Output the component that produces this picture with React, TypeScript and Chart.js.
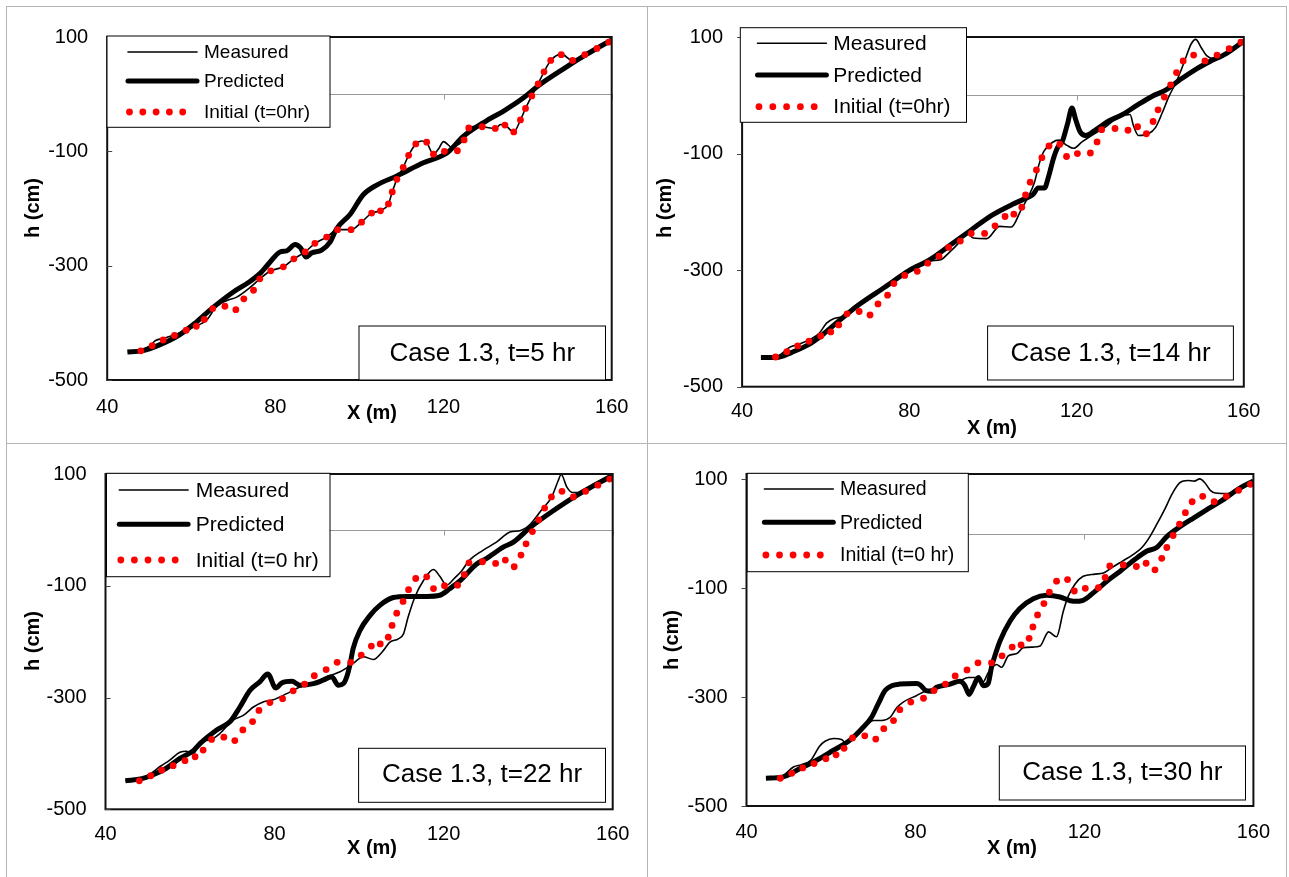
import React, { useEffect, useRef } from "react";
import { Chart, registerables } from "chart.js";

Chart.register(...registerables);

type Pt = [number, number];

// ---------- tick labels ----------
const xTicks = [40, 80, 120, 160];
const yTicks = [-500, -300, -100, 100];

// ---------- text ----------
const seriesNames = ["Measured", "Predicted"];
const initialLabelA = "Initial (t=0hr)";
const initialLabelB = "Initial (t=0 hr)";
const caseLabels = ["Case 1.3, t=5 hr", "Case 1.3, t=14 hr", "Case 1.3, t=22 hr", "Case 1.3, t=30 hr"];
const xTitle = "X (m)";
const yTitle = "h (cm)";

// ---------- data (X in m, h in cm) ----------
const initialProfile: Pt[] = [
  [48.0, -449], [50.7, -440], [53.3, -430], [56.0, -422], [58.8, -413], [61.2, -406], [63.1, -394],
  [65.1, -375], [68.0, -371], [70.6, -377], [72.5, -358], [74.8, -343], [76.3, -323], [78.9, -309],
  [81.9, -302], [84.4, -288], [87.1, -276], [89.4, -261], [92.2, -250], [94.8, -237], [98.0, -237],
  [100.5, -224], [102.9, -208], [105.0, -204], [106.9, -192], [107.8, -171], [108.9, -149], [110.4, -128],
  [111.7, -107], [113.4, -87], [116.0, -84], [117.6, -105], [120.2, -100], [123.3, -99], [124.9, -80],
  [126.0, -59], [129.2, -57], [132.3, -60], [134.6, -54], [136.7, -66], [138.3, -45], [139.5, -25],
  [141.0, -3], [142.5, 18], [143.9, 39], [145.5, 59], [148.0, 69], [150.7, 59], [153.6, 69],
  [156.5, 80], [159.3, 91],
];

const measured5: Pt[] = [
  [45, -450], [48, -448], [50, -441], [51.5, -431], [53.5, -427], [56, -421], [58.8, -413], [61.2, -405],
  [62.5, -401], [63.8, -394], [66, -371], [68.5, -361], [70.8, -355], [74, -338], [76.3, -323],
  [78.9, -309], [81.9, -302], [84.4, -288], [87.1, -276], [89.4, -261], [92.2, -250], [94.8, -237],
  [98, -237], [100.5, -224], [102.9, -208], [105, -204], [106.9, -192], [107.8, -171], [108.9, -149],
  [110.4, -128], [111.7, -107], [113.4, -87], [114.8, -82], [116, -85], [117.6, -105], [118.7, -97],
  [120, -83], [122, -93], [123.5, -88], [124.9, -79], [126, -59], [127.6, -56], [129.2, -57],
  [132.3, -60], [133.6, -53], [134.6, -54], [136.7, -66], [138.3, -45], [139.5, -25], [141, -3],
  [142.5, 18], [143.9, 39], [145.5, 59], [148, 70], [150.7, 59], [153.6, 69], [156.5, 80], [160, 95],
];
const predicted5: Pt[] = [
  [44.8, -451], [48.2, -449], [52.3, -439], [57.2, -421], [61, -400], [65.2, -373], [70, -346],
  [73.5, -330], [76.3, -314], [78.7, -294], [81.1, -276], [82.7, -274], [84.7, -263], [86, -269],
  [87.3, -285], [88.6, -278], [91, -273], [93, -259], [94.6, -235], [97.8, -210], [100.9, -176],
  [104.1, -159], [108.9, -143], [115.2, -120], [120.8, -103], [124.7, -74], [130.1, -47], [134.2, -30],
  [139.1, -6], [142.4, 14], [148.9, 46], [153.9, 69], [160, 95],
];

const measured14: Pt[] = [
  [44.5, -450], [48, -449], [51.5, -432], [54, -426], [56.5, -418], [58.5, -408], [60.2, -391],
  [62, -383], [64.3, -379], [66.8, -362], [70, -348], [74.2, -329], [78, -311], [82, -294], [85, -284],
  [87.5, -282], [89.5, -270], [92, -252], [93.8, -236], [95.3, -245], [98.5, -246], [101.6, -225],
  [104.4, -226], [106.7, -197], [108.3, -176], [109.9, -150], [111, -119], [112.2, -96], [114.2, -81],
  [115.8, -77], [117.7, -86], [119.3, -91], [121.3, -80], [123.6, -69], [126.8, -55], [129.9, -38],
  [132.8, -33], [133.6, -52], [134.8, -69], [137.2, -66], [138.9, -55], [140.5, -30], [142.1, -2],
  [143.7, 21], [145, 43], [146.2, 66], [147.4, 88], [148.5, 96], [149.8, 82], [151.1, 68],
  [152.7, 63], [155.9, 74], [160, 93],
];
const predicted14: Pt[] = [
  [44.5, -450], [48.2, -450], [51.9, -441], [56.1, -427], [59.4, -410], [63.5, -385], [68.4, -357],
  [74.2, -329], [79.9, -301], [84.9, -282], [89.8, -257], [94.8, -231], [99.7, -206], [104.7, -187],
  [107.5, -178], [109.6, -170], [110.8, -159], [112.3, -159], [113.4, -137], [114.4, -110],
  [115.5, -89], [116.6, -79], [117.8, -50], [118.9, -22], [119.8, -42], [120.8, -62], [122.2, -69],
  [124.4, -60], [127.5, -45], [131, -33], [134.5, -17], [138, -2], [141.3, 9], [144.6, 26],
  [148.6, 45], [151.9, 58], [155.9, 72], [160, 93],
];

const measured22: Pt[] = [
  [44.7, -449], [48, -446], [50.5, -437], [53, -423], [55.2, -412], [57.6, -398], [59.2, -396],
  [60.8, -401], [62.4, -379], [64.7, -376], [67.1, -364], [70.2, -340], [72.6, -332], [75, -317],
  [77.3, -308], [79.7, -304], [82.9, -293], [86, -281], [89.2, -275], [92.3, -263], [95.5, -254],
  [98.6, -239], [101, -227], [103.4, -232], [105.4, -219], [107.3, -201], [109.3, -195], [110.5, -186],
  [111.6, -156], [113.2, -120], [115.2, -91], [117.6, -71], [119.1, -83], [120.7, -99], [122.5, -87],
  [124.3, -73], [126, -55], [129.2, -37], [132.5, -22], [135.7, -4], [138.2, -1], [140.6, 11],
  [143.1, 35], [145.5, 58], [147.1, 88], [147.8, 99], [149.2, 76], [150.4, 67], [152.4, 67],
  [155.3, 81], [159.8, 97],
];
const predicted22: Pt[] = [
  [44.7, -449], [48.6, -445], [51, -439], [54.3, -427], [57.6, -409], [60.8, -395], [62.4, -382],
  [66.3, -358], [69.5, -343], [71.8, -317], [74.2, -287], [76.5, -272], [78.4, -258], [80.3, -283],
  [81.7, -274], [84.1, -271], [86, -278], [89.2, -275], [91.5, -269], [93.5, -263], [95.1, -278],
  [96.3, -275], [97.2, -260], [97.9, -239], [98.6, -212], [100.2, -180], [102.6, -153], [104.9, -135],
  [108.1, -121], [111.3, -119], [116, -119], [119.1, -117], [121.5, -105], [123.9, -91], [127.8, -61],
  [130, -52], [134.1, -31], [136.5, -22], [140.6, 5], [145.5, 32], [152, 64], [159.8, 97],
];

const measured30: Pt[] = [
  [44.6, -449], [48, -447], [51.2, -428], [53, -424], [55.2, -416], [57.3, -390], [58.6, -381],
  [60.6, -376], [62.5, -378], [63.7, -385], [65.5, -370], [68.4, -352], [70, -343], [72, -343],
  [74, -337], [75.6, -319], [77.1, -309], [80.3, -297], [82.6, -288], [85.8, -282], [88.2, -276],
  [90.5, -270], [92.5, -264], [94.5, -264], [95.9, -273], [97.3, -254], [99.2, -240], [100.4, -245],
  [102, -224], [104, -220], [105.5, -209], [107.9, -208], [109.5, -206], [111.5, -180], [113.4, -189],
  [115, -142], [116.2, -114], [117.8, -92], [119.7, -78], [122.5, -74], [124.5, -72], [126.5, -62],
  [129, -50], [131.5, -38], [133.5, -26], [135.5, -5], [137.3, 20], [139, 45], [140.8, 74],
  [142.6, 94], [144.5, 98], [146, 97], [147.3, 101], [148.5, 94], [149.8, 80], [151, 75],
  [154.5, 74], [157, 82], [160, 96],
];
const predicted30: Pt[] = [
  [44.6, -449], [48.5, -447], [52.7, -431], [56.6, -416], [60.5, -398], [64.5, -379], [67.3, -358],
  [69.6, -337], [71.2, -312], [72.8, -288], [74.4, -279], [76.3, -276], [80.3, -275], [81.2, -278],
  [82.5, -288], [83.8, -289], [85, -282], [88.2, -276], [90.5, -271], [91.7, -279], [92.7, -295],
  [93.7, -281], [94.9, -264], [96.1, -279], [97.2, -275], [98, -245], [98.8, -224], [100, -197],
  [102.4, -160], [104.7, -137], [107.9, -119], [111.1, -113], [114.2, -116], [117.4, -124],
  [119.7, -122], [122.3, -107], [125.3, -87], [128.4, -69], [131.6, -49], [134.7, -32], [137.1, -25],
  [139.5, -5], [142.6, 13], [145.8, 29], [148.9, 44], [152.1, 59], [156.8, 84], [160, 97],
];

// ---------- layout (page pixels) ----------
interface PanelCfg {
  origin: [number, number];
  size: [number, number];
  area: { l: number; r: number; t: number; b: number };
  yMax: number;
  xPad: number;
  legend: { x0: number; x1: number; y0: number; y1: number; rows: number[]; lx0: number; lx1: number; tx: number; font: number; step: number };
  box: { x0: number; x1: number; y0: number; y1: number; ty: number };
  caseLabel: string;
  initLabel: string;
  xTitlePos: [number, number];
  yTitlePos: [number, number];
  tickIn: boolean;
  measured: Pt[];
  predicted: Pt[];
}

const panels: PanelCfg[] = [
  {
    origin: [6, 6], size: [641, 437], area: { l: 107.2, r: 611.7, t: 35.7, b: 380 }, yMax: 100, xPad: 15,
    legend: { x0: 107, x1: 330, y0: 36, y1: 127.3, rows: [52, 81, 112], lx0: 128, lx1: 197, tx: 204, font: 19, step: 13.3 },
    box: { x0: 359, x1: 605.5, y0: 326, y1: 380, ty: 353 },
    caseLabel: caseLabels[0], initLabel: initialLabelA, xTitlePos: [372, 413], yTitlePos: [33, 208], tickIn: true,
    measured: measured5, predicted: predicted5,
  },
  {
    origin: [647, 6], size: [640, 437], area: { l: 742.1, r: 1243.8, t: 29.3, b: 386.7 }, yMax: 100, xPad: 13,
    legend: { x0: 740.3, x1: 966.5, y0: 27.7, y1: 122.3, rows: [43.3, 75, 106.7], lx0: 757.5, lx1: 826.4, tx: 833.3, font: 21, step: 13.8 },
    box: { x0: 987.6, x1: 1233.4, y0: 326, y1: 380, ty: 352.5 },
    caseLabel: caseLabels[1], initLabel: initialLabelA, xTitlePos: [992, 428], yTitlePos: [665, 208], tickIn: false,
    measured: measured14, predicted: predicted14,
  },
  {
    origin: [6, 443], size: [641, 434], area: { l: 105.5, r: 612.7, t: 473.3, b: 809.3 }, yMax: 100, xPad: 13,
    legend: { x0: 106.5, x1: 330, y0: 473.3, y1: 576.7, rows: [490, 524.3, 560], lx0: 119.3, lx1: 188.1, tx: 195.7, font: 21, step: 13.6 },
    box: { x0: 358.6, x1: 605.5, y0: 748.3, y1: 802.3, ty: 774 },
    caseLabel: caseLabels[2], initLabel: initialLabelB, xTitlePos: [372, 848], yTitlePos: [33, 641], tickIn: true,
    measured: measured22, predicted: predicted22,
  },
  {
    origin: [647, 443], size: [640, 434], area: { l: 746.5, r: 1253.4, t: 473.3, b: 806 }, yMax: 110, xPad: 14,
    legend: { x0: 747.2, x1: 968.3, y0: 473.3, y1: 571.7, rows: [489, 522.3, 555], lx0: 764.4, lx1: 833.3, tx: 840, font: 19.5, step: 13.6 },
    box: { x0: 999.3, x1: 1245.5, y0: 746, y1: 800, ty: 772 },
    caseLabel: caseLabels[3], initLabel: initialLabelB, xTitlePos: [1012, 848], yTitlePos: [672, 640], tickIn: false,
    measured: measured30, predicted: predicted30,
  },
];

const FONT = '"Liberation Sans", Arial, sans-serif';
const Y_W = 70;
const X_H = 45;

function makeDecor(cfg: PanelCfg) {
  return {
    id: "decor",
    beforeDatasetsDraw(chart: any) {
      const { ctx, chartArea: a, scales } = chart;
      const y0 = Math.round(scales.y.getPixelForValue(0)) + 0.5;
      ctx.save();
      ctx.strokeStyle = "#9a9a9a";
      ctx.lineWidth = 1;
      ctx.beginPath();
      ctx.moveTo(a.left, y0);
      ctx.lineTo(a.right, y0);
      for (const t of xTicks) {
        const x = Math.round(scales.x.getPixelForValue(t)) + 0.5;
        ctx.moveTo(x, y0);
        ctx.lineTo(x, y0 + 5);
      }
      ctx.stroke();
      ctx.restore();
    },
    afterDatasetsDraw(chart: any) {
      const { ctx, chartArea: a, scales } = chart;
      const [ox, oy] = cfg.origin;
      ctx.save();
      // plot frame
      ctx.strokeStyle = "#111";
      ctx.lineWidth = 2;
      ctx.strokeRect(a.left, a.top, a.right - a.left, a.bottom - a.top);
      // y tick marks
      ctx.lineWidth = 1;
      ctx.strokeStyle = "#444";
      ctx.beginPath();
      for (const t of yTicks) {
        const y = Math.round(scales.y.getPixelForValue(t)) + 0.5;
        ctx.moveTo(a.left, y);
        ctx.lineTo(cfg.tickIn ? a.left + 5 : a.left - 5, y);
      }
      ctx.stroke();

      ctx.translate(-ox, -oy);
      // legend
      const L = cfg.legend;
      ctx.fillStyle = "#fff";
      ctx.fillRect(L.x0, L.y0, L.x1 - L.x0, L.y1 - L.y0);
      ctx.strokeStyle = "#000";
      ctx.lineWidth = 1;
      ctx.strokeRect(L.x0, L.y0, L.x1 - L.x0, L.y1 - L.y0);
      ctx.lineCap = "round";
      ctx.strokeStyle = "#000";
      ctx.lineWidth = 1.6;
      ctx.beginPath();
      ctx.moveTo(L.lx0, L.rows[0]);
      ctx.lineTo(L.lx1, L.rows[0]);
      ctx.stroke();
      ctx.lineWidth = 5;
      ctx.beginPath();
      ctx.moveTo(L.lx0, L.rows[1]);
      ctx.lineTo(L.lx1, L.rows[1]);
      ctx.stroke();
      ctx.fillStyle = "#ff0000";
      for (let i = 0; i < 5; i++) {
        ctx.beginPath();
        ctx.arc(L.lx0 + 1.5 + i * L.step, L.rows[2], 3.4, 0, Math.PI * 2);
        ctx.fill();
      }
      ctx.fillStyle = "#000";
      ctx.font = `${L.font}px ${FONT}`;
      ctx.textAlign = "left";
      ctx.textBaseline = "middle";
      const names = [seriesNames[0], seriesNames[1], cfg.initLabel];
      names.forEach((n, i) => ctx.fillText(n, L.tx, L.rows[i] + 1));

      // case box
      const B = cfg.box;
      ctx.fillStyle = "#fff";
      ctx.fillRect(B.x0, B.y0, B.x1 - B.x0, B.y1 - B.y0);
      ctx.strokeStyle = "#000";
      ctx.lineWidth = 1;
      ctx.strokeRect(B.x0, B.y0, B.x1 - B.x0, B.y1 - B.y0);
      ctx.fillStyle = "#000";
      ctx.font = `26px ${FONT}`;
      ctx.textAlign = "center";
      ctx.fillText(cfg.caseLabel, (B.x0 + B.x1) / 2, B.ty + 1);

      // axis titles
      ctx.font = `bold 20px ${FONT}`;
      ctx.fillText(xTitle, cfg.xTitlePos[0], cfg.xTitlePos[1]);
      ctx.save();
      ctx.translate(cfg.yTitlePos[0], cfg.yTitlePos[1]);
      ctx.rotate(-Math.PI / 2);
      ctx.fillText(yTitle, 0, 0);
      ctx.restore();
      ctx.restore();
    },
  };
}

function Panel({ cfg }: { cfg: PanelCfg }) {
  const ref = useRef<HTMLCanvasElement>(null);
  const [ox, oy] = cfg.origin;
  const [w, h] = cfg.size;
  useEffect(() => {
    const canvas = ref.current;
    if (!canvas) return;
    const pad = {
      left: cfg.area.l - ox - Y_W,
      right: ox + w - cfg.area.r,
      top: cfg.area.t - oy,
      bottom: oy + h - cfg.area.b - X_H,
    };
    const toXY = (p: Pt[]) => p.map(([x, y]) => ({ x, y }));
    const chart = new Chart(canvas, {
      type: "line",
      data: {
        datasets: [
          {
            label: seriesNames[0],
            data: toXY(cfg.measured),
            borderColor: "#000",
            borderWidth: 1.6,
            pointRadius: 0,
            cubicInterpolationMode: "monotone",
            fill: false,
            order: 3,
          },
          {
            label: seriesNames[1],
            data: toXY(cfg.predicted),
            borderColor: "#000",
            borderWidth: 5,
            pointRadius: 0,
            cubicInterpolationMode: "monotone",
            fill: false,
            order: 2,
          },
          {
            label: cfg.initLabel,
            data: toXY(initialProfile),
            showLine: false,
            pointRadius: 3.4,
            pointBackgroundColor: "#ff0000",
            pointBorderWidth: 0,
            pointBorderColor: "#ff0000",
            order: 1,
          },
        ],
      } as any,
      options: {
        responsive: false,
        animation: false,
        events: [],
        layout: { padding: pad },
        plugins: { legend: { display: false }, tooltip: { enabled: false }, title: { display: false } },
        scales: {
          x: {
            type: "linear",
            min: 40,
            max: 160,
            afterBuildTicks: (s: any) => {
              s.ticks = xTicks.map((v) => ({ value: v }));
            },
            afterFit: (s: any) => {
              s.height = X_H;
            },
            ticks: { color: "#000", font: { family: FONT, size: 20 }, padding: cfg.xPad, maxRotation: 0, autoSkip: false },
            grid: { display: false, drawTicks: false },
            border: { display: false },
          },
          y: {
            type: "linear",
            min: -500,
            max: cfg.yMax,
            afterBuildTicks: (s: any) => {
              s.ticks = yTicks.map((v) => ({ value: v }));
            },
            afterFit: (s: any) => {
              s.width = Y_W;
            },
            ticks: { color: "#000", font: { family: FONT, size: 20 }, padding: 19, autoSkip: false },
            grid: { display: false, drawTicks: false },
            border: { display: false },
          },
        },
      } as any,
      plugins: [makeDecor(cfg)],
    });
    return () => chart.destroy();
  }, []);
  return (
    <canvas
      ref={ref}
      width={w}
      height={h}
      style={{ position: "absolute", left: ox, top: oy, width: w, height: h }}
    />
  );
}

export default function App() {
  const line = "#b4b4b4";
  return (
    <div style={{ position: "fixed", left: 0, top: 0, width: 1289, height: 877, background: "#fff", overflow: "hidden" }}>
      {panels.map((p, i) => (
        <Panel key={i} cfg={p} />
      ))}
      <div style={{ position: "absolute", left: 6, top: 6, width: 1, height: 871, background: line }} />
      <div style={{ position: "absolute", left: 6, top: 6, width: 1281, height: 1, background: line }} />
      <div style={{ position: "absolute", left: 647, top: 6, width: 1, height: 871, background: line }} />
      <div style={{ position: "absolute", left: 6, top: 443, width: 1281, height: 1, background: line }} />
      <div style={{ position: "absolute", left: 1286, top: 6, width: 1, height: 871, background: line }} />
    </div>
  );
}
